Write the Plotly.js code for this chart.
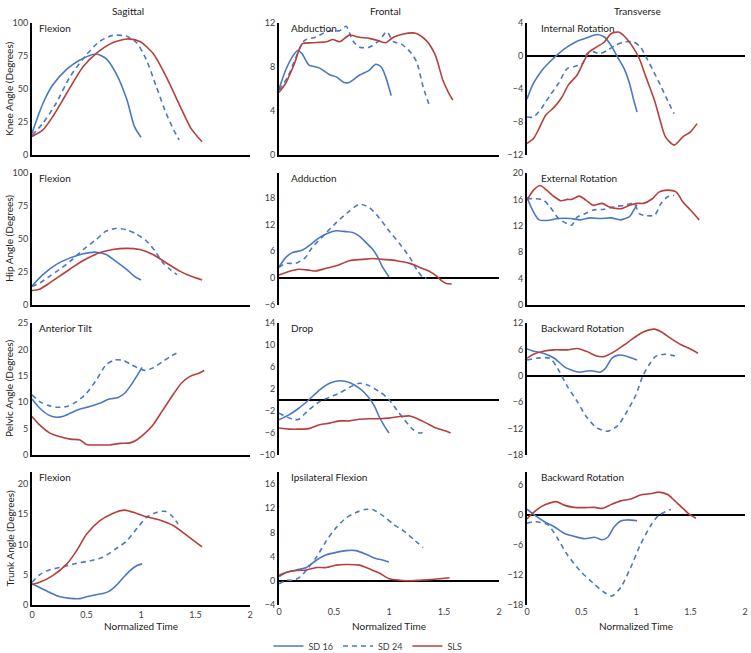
<!DOCTYPE html>
<html><head><meta charset="utf-8">
<script src="https://cdn.plot.ly/plotly-3.0.1.min.js"></script>
<style>html,body{margin:0;padding:0;background:#fff}#chart{width:751px;height:653px}</style>
</head><body><div id="chart"></div>
<script>
// ---------- DATA ----------
const seriesNames = ['SD 16', 'SD 24', 'SLS'];
const columnTitles = ['Sagittal', 'Frontal', 'Transverse'];
const rowTitles = ['Knee Angle (Degrees)', 'Hip Angle (Degrees)', 'Pelvic Angle (Degrees)', 'Trunk Angle (Degrees)'];
const panelTitles = ['Flexion', 'Abduction', 'Internal Rotation', 'Flexion', 'Adduction', 'External Rotation',
  'Anterior Tilt', 'Drop', 'Backward Rotation', 'Flexion', 'Ipsilateral Flexion', 'Backward Rotation'];
const xTickVals = [0, 0.5, 1, 1.5, 2];
const xTickText = ['0', '0.5', '1', '1.5', '2'];
const xAxisTitle = 'Normalized Time';

// Knee – sagittal (flexion)
const kneeSagSD16T = [0,0.1,0.19,0.32,0.44,0.59,0.68,0.77,0.87,0.94,1.0];
const kneeSagSD16V = [16.5,39,53,65,72,76.5,73,62,42,21.5,13.4];
const kneeSagSD24T = [0,0.1,0.22,0.35,0.5,0.62,0.74,0.87,0.96,1.05,1.14,1.23,1.3,1.35];
const kneeSagSD24V = [15,24,39,59.5,76,86,90.6,90,85,72,52,31.6,19,11.4];
const kneeSagSLST = [0,0.1,0.19,0.32,0.47,0.59,0.74,0.88,0.99,1.11,1.23,1.36,1.46,1.56];
const kneeSagSLSV = [14,19,29,47,67,77,85,88,86,77,59.5,36.7,20,10];
// Knee – frontal (abduction)
const kneeFroSD16T = [0,0.06,0.12,0.17,0.21,0.27,0.37,0.46,0.52,0.59,0.64,0.73,0.82,0.88,0.93,0.97,1.02];
const kneeFroSD16V = [6.0,7.7,8.9,9.5,9.2,8.2,7.9,7.3,7.1,6.6,6.6,7.25,7.7,8.25,8.0,7.1,5.4];
const kneeFroSD24T = [0,0.08,0.15,0.23,0.33,0.43,0.49,0.55,0.61,0.67,0.73,0.82,0.91,0.98,1.04,1.11,1.19,1.25,1.31,1.37];
const kneeFroSD24V = [5.9,7.1,8.8,10.4,10.7,11.2,11.3,11.3,11.7,10.4,9.8,9.8,10.4,11.2,10.3,10.1,9.4,8.5,6.2,4.4];
const kneeFroSLST = [0,0.06,0.14,0.21,0.3,0.43,0.49,0.55,0.64,0.73,0.82,0.9,0.97,1.04,1.13,1.22,1.26,1.34,1.42,1.49,1.54,1.58];
const kneeFroSLSV = [5.7,6.5,8.3,10.1,10.2,10.3,10.5,10.3,10.9,10.7,10.6,10.4,10.2,10.7,11.0,11.1,11.0,10.4,9.1,6.8,5.7,5.0];
// Knee – transverse (internal rotation)
const kneeTraSD16T = [0,0.06,0.14,0.21,0.29,0.37,0.46,0.55,0.64,0.71,0.77,0.83,0.89,0.94,0.98,1.01];
const kneeTraSD16V = [-5.2,-3.3,-1.7,-0.7,0.3,1.1,1.8,2.2,2.6,2.3,1.3,-0.1,-1.5,-3.3,-5.4,-6.8];
const kneeTraSD24T = [0,0.06,0.14,0.21,0.29,0.37,0.43,0.51,0.55,0.61,0.67,0.74,0.81,0.89,0.98,1.04,1.1,1.17,1.23,1.29,1.35];
const kneeTraSD24V = [-7.4,-7.4,-6.2,-4.8,-3.3,-1.5,-1.3,-0.9,0.3,0.5,0.3,0.7,1.3,1.7,1.7,1.1,-0.3,-2.1,-3.7,-5.4,-7.0];
const kneeTraSLST = [0,0.06,0.11,0.17,0.25,0.32,0.38,0.46,0.52,0.57,0.64,0.71,0.77,0.84,0.9,0.97,1.03,1.09,1.17,1.23,1.27,1.35,1.43,1.5,1.56];
const kneeTraSLSV = [-10.6,-10.0,-8.8,-7.2,-6.2,-5.0,-3.5,-2.3,-0.7,0.5,1.1,1.7,2.7,2.9,2.3,1.1,-0.3,-2.5,-5.4,-8.2,-9.8,-10.8,-9.8,-9.2,-8.2];
// Hip – sagittal (flexion)
const hipSagSD16T = [0,0.1,0.22,0.35,0.47,0.59,0.68,0.77,0.87,0.94,1.0];
const hipSagSD16V = [14.5,23,30.6,35.7,38.8,40,38.3,33,26.8,21.7,19];
const hipSagSD24T = [0,0.07,0.16,0.25,0.35,0.47,0.59,0.68,0.77,0.87,0.96,1.05,1.13,1.2,1.27,1.33];
const hipSagSD24V = [14,16.6,21.7,26.8,33,42,49.7,56,58,57,53.6,48.5,40.8,32,26.8,23];
const hipSagSLST = [0,0.07,0.16,0.25,0.35,0.47,0.62,0.74,0.87,0.99,1.11,1.23,1.36,1.46,1.56];
const hipSagSLSV = [11,12,16.6,21.7,27.3,33.7,39.5,42,42.9,42,38.3,32,25.5,21.7,19];
// Hip – frontal (adduction)
const hipFroSD16T = [0,0.06,0.12,0.21,0.27,0.37,0.46,0.52,0.61,0.67,0.73,0.79,0.85,0.9,0.94,1.0];
const hipFroSD16V = [2.5,4.6,5.7,6.25,7.2,9.1,10.2,10.6,10.4,10.2,9.4,8.0,6.5,4.6,2.5,0.3];
const hipFroSD24T = [0,0.06,0.15,0.24,0.3,0.4,0.52,0.64,0.73,0.82,0.91,1.0,1.1,1.19,1.26,1.31,1.34];
const hipFroSD24V = [2.4,3.3,3.3,4.6,6.8,9.4,12.4,15.0,16.5,15.8,13.5,10.6,7.6,4.6,1.6,0.15,0];
const hipFroSLST = [0,0.09,0.18,0.27,0.33,0.43,0.52,0.64,0.76,0.85,0.94,1.07,1.19,1.28,1.37,1.43,1.48,1.52,1.57];
const hipFroSLSV = [0.7,1.5,2.0,1.8,1.6,2.2,2.75,3.9,4.2,4.4,4.2,3.9,3.3,2.4,1.5,0.5,-0.6,-1.2,-1.3];
// Hip – transverse (external rotation)
const hipTraSD16T = [0,0.05,0.11,0.18,0.29,0.4,0.49,0.58,0.67,0.77,0.86,0.94,0.98,1.01];
const hipTraSD16V = [16.3,14.4,12.9,12.8,13.1,13.1,12.9,13.2,13.1,13.2,12.9,13.4,14.4,15.2];
const hipTraSD24T = [0,0.08,0.15,0.21,0.29,0.37,0.41,0.46,0.52,0.61,0.71,0.8,0.89,0.98,1.03,1.07,1.17,1.23,1.29,1.35];
const hipTraSD24V = [16.1,16.1,15.9,14.9,13.1,12.3,12.1,13.3,13.75,14.4,14.5,14.9,15.1,15.4,13.85,13.6,13.6,15.4,16.4,16.6];
const hipTraSLST = [0,0.06,0.12,0.18,0.25,0.31,0.37,0.41,0.48,0.54,0.61,0.69,0.75,0.83,0.87,0.94,1.01,1.07,1.15,1.21,1.29,1.37,1.43,1.5,1.58];
const hipTraSLSV = [15.9,17.4,18.1,17.4,16.4,15.8,16.0,16.0,16.5,15.9,15.1,15.4,14.9,14.6,14.6,15.1,15.4,15.4,16.1,17.1,17.4,17.1,15.6,14.4,12.9];
// Pelvis – sagittal (anterior tilt)
const pelSagSD16T = [0,0.07,0.15,0.22,0.28,0.35,0.44,0.53,0.62,0.71,0.79,0.85,0.91,0.96,1.01];
const pelSagSD16V = [10.6,8.9,7.6,7.15,7.3,7.9,8.7,9.2,9.8,10.6,10.9,11.7,13.3,14.9,16.6];
const pelSagSD24T = [0,0.07,0.15,0.22,0.32,0.41,0.5,0.59,0.68,0.76,0.84,0.91,0.97,1.04,1.11,1.2,1.28,1.36];
const pelSagSD24V = [11.4,10.1,9.4,9.05,9.2,10.1,11.7,14.2,17.1,18.0,17.9,17.1,16.5,16.0,16.5,17.7,18.8,19.6];
const pelSagSLST = [0,0.07,0.16,0.25,0.35,0.44,0.5,0.62,0.71,0.81,0.9,0.96,1.02,1.11,1.2,1.3,1.37,1.45,1.53,1.58];
const pelSagSLSV = [7.3,5.7,4.2,3.5,3.0,2.85,2.0,1.9,1.9,2.2,2.3,2.85,3.8,5.7,8.5,11.6,13.6,14.9,15.5,16.0];
// Pelvis – frontal (drop)
const pelFroSD16T = [0,0.09,0.18,0.27,0.37,0.46,0.55,0.64,0.73,0.81,0.87,0.91,0.96,1.0];
const pelFroSD16V = [-3.6,-2.7,-1.5,0.0,1.85,3.05,3.5,3.2,2.15,0.6,-1.2,-3.0,-4.8,-6.0];
const pelFroSD24T = [0,0.06,0.14,0.18,0.27,0.37,0.46,0.55,0.64,0.73,0.82,0.91,0.99,1.07,1.14,1.22,1.28,1.33];
const pelFroSD24V = [-2.4,-3.0,-3.6,-3.5,-1.8,-0.3,0.5,1.25,2.3,3.05,2.6,1.55,0.3,-1.8,-3.6,-5.4,-6.0,-5.7];
const pelFroSLST = [0,0.09,0.18,0.27,0.37,0.46,0.55,0.64,0.73,0.82,0.91,1.0,1.1,1.19,1.25,1.34,1.43,1.51,1.56];
const pelFroSLSV = [-5.1,-5.3,-5.3,-5.2,-4.5,-4.2,-3.8,-3.8,-3.5,-3.4,-3.4,-3.3,-3.0,-2.9,-3.3,-4.2,-5.1,-5.6,-6.0];
// Pelvis – transverse (backward rotation)
const pelTraSD16T = [0,0.06,0.15,0.25,0.34,0.4,0.48,0.55,0.61,0.67,0.72,0.78,0.84,0.92,1.01];
const pelTraSD16V = [6.1,5.6,5.1,4.0,2.1,1.35,0.8,1.1,1.1,0.8,1.7,4.0,4.7,4.4,3.6];
const pelTraSD24T = [0,0.09,0.21,0.28,0.37,0.46,0.55,0.64,0.74,0.83,0.92,1.0,1.06,1.12,1.18,1.26,1.32,1.37];
const pelTraSD24V = [3.6,4.0,4.0,1.7,-2.4,-5.8,-9.5,-11.8,-12.6,-11.4,-8.0,-4.3,-0.15,2.5,4.4,4.9,4.7,4.4];
const pelTraSLST = [0,0.06,0.15,0.25,0.37,0.46,0.55,0.64,0.71,0.8,0.89,0.98,1.07,1.17,1.23,1.32,1.41,1.5,1.57];
const pelTraSLSV = [4.0,4.9,5.6,5.9,5.9,6.2,5.5,4.5,4.4,5.5,7.0,8.6,10.0,10.6,10.0,8.5,7.1,6.1,5.1];
// Trunk – sagittal (flexion)
const trkSagSD16T = [0,0.07,0.16,0.25,0.35,0.44,0.51,0.59,0.65,0.71,0.77,0.84,0.9,0.96,1.01];
const trkSagSD16V = [3.5,2.9,2.1,1.4,1.1,1.05,1.4,1.7,1.9,2.3,3.2,4.6,5.7,6.5,6.8];
const trkSagSD24T = [0,0.07,0.16,0.28,0.41,0.53,0.65,0.77,0.87,0.96,1.05,1.14,1.22,1.28,1.34];
const trkSagSD24V = [3.75,5.0,5.8,6.3,6.9,7.3,7.9,9.3,10.6,12.6,14.5,15.3,15.5,14.8,13.4];
const trkSagSLST = [0,0.07,0.19,0.32,0.41,0.5,0.62,0.74,0.85,0.96,1.05,1.17,1.3,1.42,1.56];
const trkSagSLSV = [3.4,3.75,4.85,6.8,9.0,11.7,13.9,15.15,15.7,15.15,14.6,14.05,13.1,11.5,9.6];
// Trunk – frontal (ipsilateral flexion)
const trkFroSD16T = [0,0.07,0.16,0.25,0.34,0.43,0.52,0.61,0.7,0.79,0.88,0.95,1.0];
const trkFroSD16V = [0.7,1.4,1.8,2.2,3.4,4.3,4.7,5.0,5.0,4.4,3.7,3.4,3.1];
const trkFroSD24T = [0,0.07,0.13,0.19,0.26,0.34,0.43,0.52,0.61,0.7,0.78,0.85,0.95,1.04,1.13,1.22,1.31];
const trkFroSD24V = [-0.5,0.1,0.1,0.6,2.0,3.9,6.6,8.8,10.4,11.3,11.8,11.8,10.7,9.35,8.3,6.9,5.5];
const trkFroSLST = [0,0.07,0.16,0.25,0.34,0.43,0.52,0.61,0.73,0.82,0.92,1.0,1.1,1.19,1.28,1.37,1.46,1.55];
const trkFroSLSV = [0.9,1.4,1.7,1.8,2.2,2.2,2.6,2.7,2.6,2.0,1.2,0.35,0.1,0.0,0.1,0.2,0.35,0.5];
// Trunk – transverse (backward rotation)
const trkTraSD16T = [0,0.07,0.16,0.25,0.34,0.43,0.53,0.62,0.69,0.74,0.8,0.86,0.92,1.01];
const trkTraSD16V = [1.1,-0.1,-1.4,-2.4,-3.7,-4.3,-4.8,-4.5,-5.0,-4.5,-2.4,-1.25,-1.05,-1.2];
const trkTraSD24T = [0,0.07,0.19,0.28,0.37,0.49,0.62,0.71,0.78,0.86,0.95,1.04,1.14,1.21,1.32];
const trkTraSD24V = [-1.7,-1.4,-2.0,-4.7,-8.0,-11.25,-13.9,-15.5,-16.2,-14.5,-10.6,-6.0,-2.0,-0.1,1.05];
const trkTraSLST = [0,0.05,0.13,0.22,0.27,0.34,0.43,0.53,0.62,0.69,0.77,0.86,0.95,1.04,1.14,1.21,1.29,1.35,1.43,1.49,1.55];
const trkTraSLSV = [-0.85,0.25,1.6,2.4,2.6,1.9,1.45,1.4,1.45,1.25,2.0,2.75,3.1,3.9,4.2,4.5,4.0,2.9,1.25,0.05,-0.7];

// y tick labels per panel
const yTicks = [
  [0,25,50,75,100], [0,4,8,12], [-12,-8,-4,0,4],
  [0,25,50,75,100], [-6,0,6,12,18], [0,4,8,12,16,20],
  [0,5,10,15,20,25], [-10,-6,-2,2,6,10,14], [-18,-12,-6,0,6,12],
  [0,5,10,15,20], [-4,0,4,8,12,16], [-18,-12,-6,0,6]
];

// ---------- BUILD ----------
const panelData = [
  [[kneeSagSD16T,kneeSagSD16V],[kneeSagSD24T,kneeSagSD24V],[kneeSagSLST,kneeSagSLSV]],
  [[kneeFroSD16T,kneeFroSD16V],[kneeFroSD24T,kneeFroSD24V],[kneeFroSLST,kneeFroSLSV]],
  [[kneeTraSD16T,kneeTraSD16V],[kneeTraSD24T,kneeTraSD24V],[kneeTraSLST,kneeTraSLSV]],
  [[hipSagSD16T,hipSagSD16V],[hipSagSD24T,hipSagSD24V],[hipSagSLST,hipSagSLSV]],
  [[hipFroSD16T,hipFroSD16V],[hipFroSD24T,hipFroSD24V],[hipFroSLST,hipFroSLSV]],
  [[hipTraSD16T,hipTraSD16V],[hipTraSD24T,hipTraSD24V],[hipTraSLST,hipTraSLSV]],
  [[pelSagSD16T,pelSagSD16V],[pelSagSD24T,pelSagSD24V],[pelSagSLST,pelSagSLSV]],
  [[pelFroSD16T,pelFroSD16V],[pelFroSD24T,pelFroSD24V],[pelFroSLST,pelFroSLSV]],
  [[pelTraSD16T,pelTraSD16V],[pelTraSD24T,pelTraSD24V],[pelTraSLST,pelTraSLSV]],
  [[trkSagSD16T,trkSagSD16V],[trkSagSD24T,trkSagSD24V],[trkSagSLST,trkSagSLSV]],
  [[trkFroSD16T,trkFroSD16V],[trkFroSD24T,trkFroSD24V],[trkFroSLST,trkFroSLSV]],
  [[trkTraSD16T,trkTraSD16V],[trkTraSD24T,trkTraSD24V],[trkTraSLST,trkTraSLSV]]
];

const W = 751, H = 653;
const FONT = 'Lato, "Open Sans", sans-serif';
const colL = [32, 279, 527], colR = [250, 499, 745];
const rowT = [23, 173, 323, 472], rowB = [155, 305, 455, 605];
const yRanges = [
  [0,100],[0,12],[-12,4],
  [0,100],[-6,23.5],[0,20],
  [0,25],[-10,14],[-18,12],
  [0,22],[-4,18],[-18,8.5]
];
const styles = [
  {color:'#4A78C2', dash:'solid'},
  {color:'#4A78C2', dash:'5px,4px'},
  {color:'#B5403C', dash:'solid'}
];
const traces = [];
const layout = {
  width: W, height: H, margin: {l:0,r:0,t:0,b:0, autoexpand:false},
  paper_bgcolor:'#fff', plot_bgcolor:'rgba(0,0,0,0)',
  font: {family: FONT, size: 9, color:'#404040'},
  showlegend: true,
  legend: {orientation:'h', x:0.49, xanchor:'center', y:1-646/H, yanchor:'middle',
           font:{size:9, color:'#404040'}, itemwidth:30, tracegroupgap:0, bgcolor:'rgba(0,0,0,0)'},
  annotations: [], hovermode:false
};
for (let i = 0; i < 12; i++) {
  const r = Math.floor(i/3), c = i % 3;
  const xa = 'xaxis' + (i+1), ya = 'yaxis' + (i+1);
  const xs = 'x' + (i+1), ys = 'y' + (i+1);
  const zeroBase = yRanges[i][0] === 0;
  layout[xa] = {
    domain: [colL[c]/W, colR[c]/W], range: [0,2], anchor: ys,
    showgrid:false, zeroline:false, ticks:'',
    showline: zeroBase, linecolor:'#000', linewidth:2,
    tickvals: xTickVals, ticktext: xTickText, showticklabels: r === 3,
    tickfont:{size:9, color:'#404040'}
  };
  layout[ya] = {
    domain: [1 - rowB[r]/H, 1 - rowT[r]/H], range: yRanges[i], anchor: xs,
    showgrid:false, ticks:'', showline:true, linecolor:'#000', linewidth:2,
    zeroline: !zeroBase, zerolinecolor:'#000', zerolinewidth:2,
    tickvals: yTicks[i], tickfont:{size:9, color:'#404040'}
  };
  panelData[i].forEach((d, s) => {
    traces.push({
      type:'scatter', mode:'lines', x:d[0], y:d[1], xaxis:xs, yaxis:ys,
      name: seriesNames[s], legendgroup: seriesNames[s], showlegend: i === 0,
      line:{color:styles[s].color, dash:styles[s].dash, width:1.6, shape:'spline', smoothing:0.7}
    });
  });
  const ptx = [37, 289, 539][c];
  layout.annotations.push({text: panelTitles[i], xref:'paper', yref:'paper',
    x: ptx/W, y: 1 - (rowT[r]+5)/H, xanchor:'left', yanchor:'middle', showarrow:false,
    font:{size:10, color:'#222'}});
}
const colCenters = [128, 385, 637];
columnTitles.forEach((t, c) => layout.annotations.push({text:t, xref:'paper', yref:'paper',
  x: colCenters[c]/W, y: 1 - 11/H, xanchor:'center', yanchor:'middle', showarrow:false,
  font:{size:10, color:'#222'}}));
rowTitles.forEach((t, r) => layout.annotations.push({text:t, xref:'paper', yref:'paper',
  x: 9/W, y: 1 - ((rowT[r]+rowB[r])/2)/H, xanchor:'center', yanchor:'middle', textangle:-90,
  showarrow:false, font:{size:10, color:'#222'}}));
[141, 389, 636].forEach(cx => layout.annotations.push({text:xAxisTitle, xref:'paper', yref:'paper',
  x: cx/W, y: 1 - 626/H, xanchor:'center', yanchor:'middle', showarrow:false,
  font:{size:10, color:'#222'}}));

Plotly.newPlot('chart', traces, layout, {staticPlot:true, displayModeBar:false});
</script></body></html>
